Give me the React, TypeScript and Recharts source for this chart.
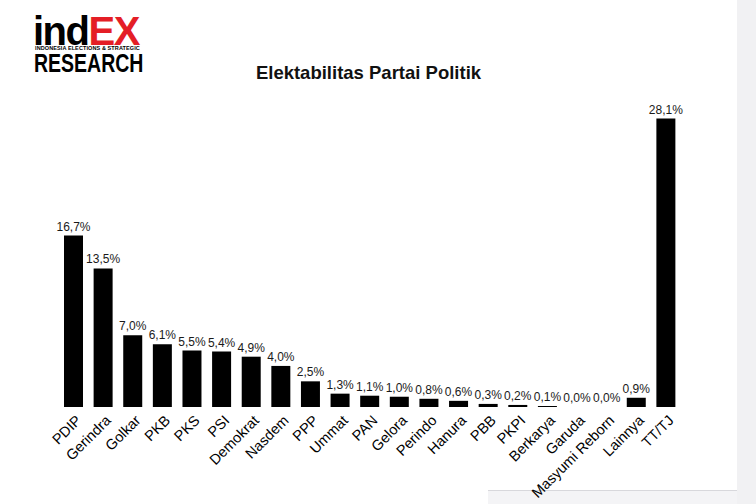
import { Bar, BarChart, LabelList, XAxis, YAxis } from "recharts";

const parties = [
  "PDIP", "Gerindra", "Golkar", "PKB", "PKS", "PSI", "Demokrat", "Nasdem", "PPP", "Ummat",
  "PAN", "Gelora", "Perindo", "Hanura", "PBB", "PKPI", "Berkarya", "Garuda", "Masyumi Reborn",
  "Lainnya", "TT/TJ",
];
const elektabilitas = [
  16.7, 13.5, 7.0, 6.1, 5.5, 5.4, 4.9, 4.0, 2.5, 1.3, 1.1, 1.0, 0.8, 0.6, 0.3, 0.2, 0.1, 0.0,
  0.0, 0.9, 28.1,
];

const data = parties.map((p, i) => ({ party: p, value: elektabilitas[i] }));

const font = "'Liberation Sans', Arial, sans-serif";

// label ends up-right at the bar centre, runs down-left at 45deg
const PartyTick = ({ x, y, payload }: any) => (
  <text
    x={x + 1}
    y={y - 1}
    transform={`rotate(-45, ${x + 1}, ${y - 1})`}
    textAnchor="end"
    dominantBaseline="hanging"
    fontSize={14.5}
    fontFamily={font}
    fill="#000"
  >
    {payload.value}
  </text>
);

const Logo = () => (
  <div style={{ fontFamily: font, lineHeight: 1, fontWeight: 700 }}>
    <div style={{ position: "absolute", left: 33, top: 11, fontSize: 40, fontWeight: 900, letterSpacing: -1.5 }}>
      <span style={{ color: "#000" }}>ind</span>
      <span style={{ color: "#e41e26" }}>EX</span>
    </div>
    <div style={{ position: "absolute", left: 35, top: 46, fontSize: 5.5, letterSpacing: 0.1, whiteSpace: "nowrap" }}>
      INDONESIA ELECTIONS &amp; STRATEGIC
    </div>
    <div
      style={{
        position: "absolute",
        left: 34,
        top: 51,
        fontSize: 25,
        transform: "scaleX(0.78)",
        transformOrigin: "left top",
        whiteSpace: "nowrap",
      }}
    >
      RESEARCH
    </div>
  </div>
);

export default function App() {
  return (
    <div
      style={{
        position: "absolute",
        left: 0,
        top: 0,
        width: 756,
        height: 504,
        background: "#fff",
        overflow: "hidden",
      }}
    >
      <Logo />
      <div
        style={{
          position: "absolute",
          left: 0,
          width: 737,
          top: 62,
          textAlign: "center",
          fontFamily: font,
          fontWeight: 700,
          fontSize: 18.5,
          color: "#111",
        }}
      >
        Elektabilitas Partai Politik
      </div>
      <div style={{ position: "absolute", left: 737, top: 0, width: 19, height: 504, background: "#f1f1f3" }} />
      <div
        style={{
          position: "absolute",
          left: 488,
          top: 490,
          width: 249,
          height: 14,
          background: "#f4f4f6",
          borderTop: "1px solid #d8d8dc",
        }}
      />
      <div style={{ position: "absolute", left: 0, top: 0 }}>
        <BarChart
          width={737}
          height={504}
          data={data}
          margin={{ top: 99, right: 56, bottom: 0, left: 59 }}
        >
          <XAxis
            dataKey="party"
            interval={0}
            axisLine={false}
            tickLine={false}
            height={97}
            tick={<PartyTick />}
          />
          <YAxis hide domain={[0, 30]} />
          <Bar dataKey="value" fill="#000" barSize={19} minPointSize={0.01} isAnimationActive={false}>
            <LabelList
              dataKey="value"
              position="top"
              offset={5}
              formatter={(v: any) => `${Number(v).toFixed(1).replace(".", ",")}%`}
              style={{ fontSize: 12, fontFamily: font, fill: "#1a1a1a" }}
            />
          </Bar>
        </BarChart>
      </div>
    </div>
  );
}
